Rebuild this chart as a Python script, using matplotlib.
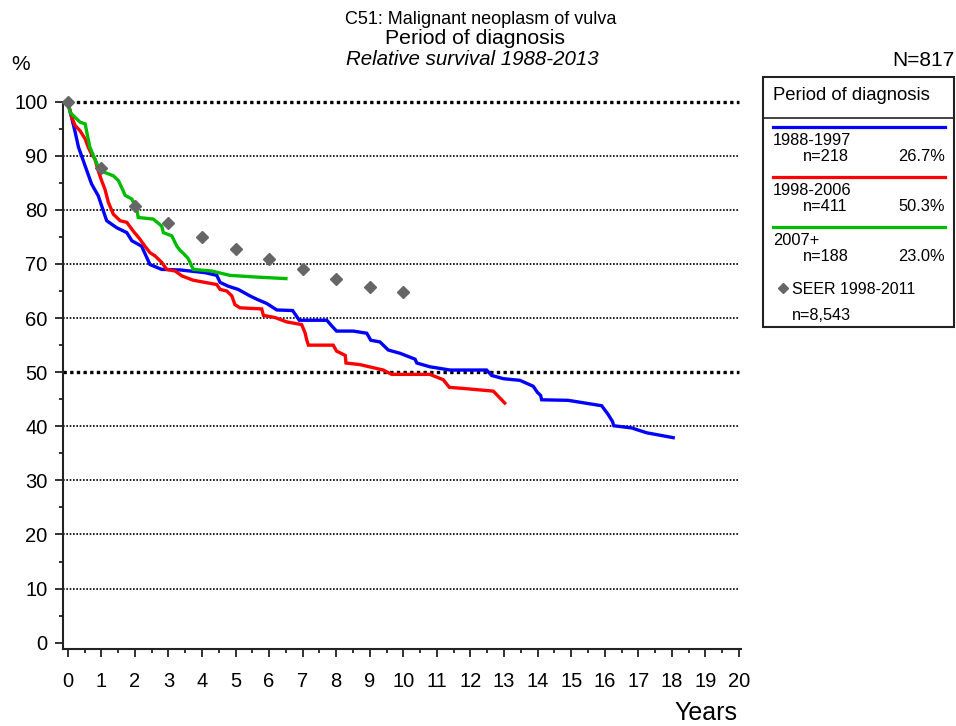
import matplotlib
matplotlib.use("Agg")
import matplotlib.pyplot as plt
from matplotlib.lines import Line2D
from matplotlib.patches import Rectangle
from matplotlib.ticker import MultipleLocator

plt.rcParams['font.family'] = ['Liberation Sans', 'DejaVu Sans']

# survival curves (years, relative survival %)
blue_x = [0, 0.22, 0.32, 0.52, 0.71, 0.91, 1.16, 1.46, 1.76, 1.91, 2.20, 2.45, 2.80,
          3.35, 4.09, 4.44, 4.54, 4.78, 5.08, 5.43, 5.63, 5.93, 6.23, 6.70, 6.90, 7.72,
          7.86, 8.01, 8.51, 8.91, 9.03, 9.30, 9.55, 9.90, 10.35, 10.40, 10.79, 11.39,
          12.48, 12.63, 12.98, 13.47, 13.87, 13.99, 14.09, 14.12, 14.91, 15.91, 16.10,
          16.23, 16.27, 16.80, 17.25, 18.04]
blue_y = [100, 94.4, 91.6, 88.1, 84.8, 82.6, 78.0, 76.7, 75.8, 74.3, 73.3, 69.9, 69.0,
          68.9, 68.4, 67.9, 66.6, 65.9, 65.3, 64.1, 63.5, 62.7, 61.5, 61.4, 59.6, 59.6,
          58.6, 57.6, 57.6, 57.2, 55.9, 55.6, 54.1, 53.5, 52.4, 51.7, 51.0, 50.4,
          50.4, 49.4, 48.8, 48.5, 47.4, 46.3, 45.7, 44.9, 44.8, 43.8, 42.2,
          40.9, 40.1, 39.7, 38.8, 37.9]

red_x = [0, 0.12, 0.22, 0.37, 0.52, 0.61, 0.71, 0.81, 0.91, 1.01, 1.11, 1.21, 1.36,
         1.56, 1.76, 1.95, 2.15, 2.30, 2.45, 2.60, 2.80, 2.95, 3.20, 3.40, 3.74, 4.09,
         4.44, 4.54, 4.74, 4.89, 4.98, 5.13, 5.78, 5.83, 6.18, 6.52, 6.97, 7.07, 7.12,
         7.17, 7.91, 8.01, 8.27, 8.29, 8.71, 9.40, 9.65, 10.79, 11.19, 11.37, 11.78,
         12.68, 13.02]
red_y = [100, 97.1, 95.6, 94.6, 93.1, 91.6, 90.3, 89.4, 87.2, 85.4, 83.8, 81.4, 79.2,
         78.0, 77.7, 76.1, 74.6, 73.3, 72.1, 71.5, 70.3, 69.0, 68.7, 67.8, 67.0, 66.6,
         66.2, 65.3, 65.0, 64.1, 62.5, 61.9, 61.7, 60.5, 60.1, 59.3, 58.8, 57.3, 56.0,
         55.0, 55.0, 53.9, 53.1, 51.7, 51.4, 50.4, 49.6, 49.6, 48.6, 47.2, 47.0,
         46.5, 44.3]

green_x = [0, 0.07, 0.22, 0.37, 0.52, 0.57, 0.66, 0.81, 0.96, 1.11, 1.36, 1.51, 1.61,
           1.71, 1.91, 2.06, 2.10, 2.55, 2.80, 2.85, 3.10, 3.25, 3.35, 3.44, 3.59, 3.74,
           4.29, 4.83, 5.58, 6.50]
green_y = [100, 98.0, 97.1, 96.2, 95.9, 94.3, 91.6, 89.4, 87.2, 86.9, 86.3, 85.4, 84.1,
           82.7, 82.0, 80.1, 78.6, 78.3, 77.0, 75.8, 75.2, 73.3, 72.5, 72.0, 71.0, 69.0,
           68.7, 67.9, 67.6, 67.3]

seer_x = [0, 1, 2, 3, 4, 5, 6, 7, 8, 9, 10]
seer_y = [100, 87.7, 80.7, 77.5, 74.9, 72.7, 70.9, 69.1, 67.3, 65.8, 64.9]

groups = ['1988-1997', '1998-2006', '2007+']
group_n = ['n=218', 'n=411', 'n=188']
group_pct = ['26.7%', '50.3%', '23.0%']
colors = ['#0000ff', '#ff0000', '#00bb00']
seer_color = '#666666'

W, H = 956, 726
fig = plt.figure(figsize=(W / 100, H / 100), dpi=100)


def fx(px):
    return px / W


def fy(py):
    return 1 - py / H


ax = fig.add_axes([fx(62.7), fy(649.3), fx(741) - fx(62.7), fy(101.7) - fy(649.3)])
ax.set_xlim(-0.15, 20.06)
ax.set_ylim(-1.22, 100)

# dotted reference lines, heavier at 50 and 100
for v in range(10, 101, 10):
    heavy = v in (50, 100)
    ax.hlines(v, -0.15, 20, colors='black', linestyles=(0, (1, 1)),
              linewidth=2.4 if heavy else 1.2, clip_on=False, zorder=1)

for xs, ys, c in zip([blue_x, red_x, green_x], [blue_y, red_y, green_y], colors):
    ax.plot(xs, ys, color=c, lw=2.4, solid_joinstyle='miter', zorder=3, clip_on=False)

ax.plot(seer_x, seer_y, linestyle='none', marker='D', ms=6, color=seer_color,
        mec=seer_color, zorder=4, clip_on=False)

for s in ['top', 'right']:
    ax.spines[s].set_visible(False)
for s in ['left', 'bottom']:
    ax.spines[s].set_linewidth(1.5)
    ax.spines[s].set_color('#222222')
ax.spines['bottom'].set_bounds(-0.15, 20.06)

ax.xaxis.set_major_locator(MultipleLocator(1))
ax.xaxis.set_minor_locator(MultipleLocator(0.5))
ax.yaxis.set_major_locator(MultipleLocator(10))
ax.yaxis.set_minor_locator(MultipleLocator(5))
ax.tick_params(axis='x', which='major', length=5.5, width=1.3, pad=10.5, labelsize=14.5,
               color='#222222')
ax.tick_params(axis='x', which='minor', length=3, width=1.3, color='#222222')
ax.tick_params(axis='y', which='major', length=6, width=1.3, pad=5, labelsize=14.5,
               color='#222222')
ax.tick_params(axis='y', which='minor', length=3, width=1.3, color='#222222')

# titles and axis texts
fig.text(fx(481), fy(24.5), 'C51: Malignant neoplasm of vulva', ha='center',
         va='baseline', fontsize=13)
fig.text(fx(475), fy(44.5), 'Period of diagnosis', ha='center', va='baseline',
         fontsize=15.3)
fig.text(fx(472), fy(65), 'Relative survival 1988-2013', ha='center', va='baseline',
         fontsize=14.8, style='italic')
fig.text(fx(21), fy(64), '%', ha='center', va='center', fontsize=15)
fig.text(fx(954), fy(60), 'N=817', ha='right', va='center', fontsize=15)
fig.text(fx(737), fy(713), 'Years', ha='right', va='center', fontsize=18)

# legend box
fig.patches.append(Rectangle((fx(762.7), fy(326.7)), fx(954.3) - fx(762.7),
                             fy(77.3) - fy(326.7), transform=fig.transFigure,
                             fill=False, edgecolor='#222222', lw=1.5))
fig.lines.append(Line2D([fx(762.7), fx(954.3)], [fy(118.3), fy(118.3)],
                        transform=fig.transFigure, color='#222222', lw=1.2))
fig.text(fx(773.3), fy(96), 'Period of diagnosis', ha='left', va='center', fontsize=13.3)

for i in range(3):
    top = 126.7 + i * 50
    fig.lines.append(Line2D([fx(772.7), fx(945)], [fy(top), fy(top)],
                            transform=fig.transFigure, color=colors[i], lw=2.3))
    fig.text(fx(773), fy(top + 14), groups[i], ha='left', va='center', fontsize=11.8)
    fig.text(fx(802.7), fy(top + 29.5), group_n[i], ha='left', va='center', fontsize=11.8)
    fig.text(fx(945), fy(top + 29.5), group_pct[i], ha='right', va='center', fontsize=11.8)

fig.lines.append(Line2D([fx(782.7)], [fy(288.3)], transform=fig.transFigure,
                        marker='D', ms=5.5, color=seer_color, linestyle='none'))
fig.text(fx(792.3), fy(290), 'SEER 1998-2011', ha='left', va='center', fontsize=11.5)
fig.text(fx(792.3), fy(315.7), 'n=8,543', ha='left', va='center', fontsize=11.7)

fig.savefig('out.png', dpi=100)
